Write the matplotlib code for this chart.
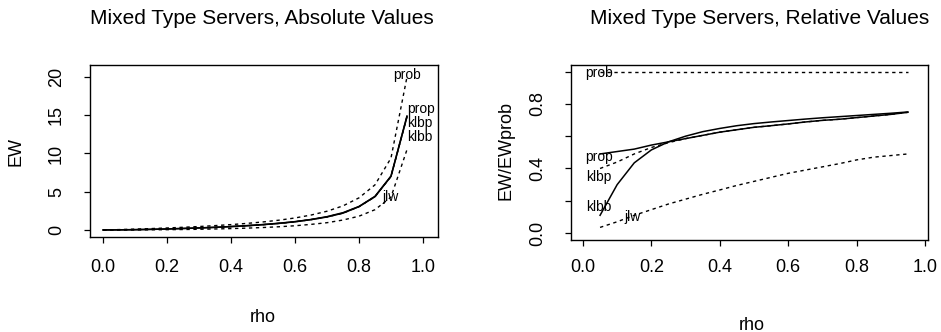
import matplotlib
matplotlib.use("Agg")
import matplotlib.pyplot as plt

FONT = ['Liberation Sans Narrow', 'Liberation Sans', 'DejaVu Sans']
plt.rcParams['font.family'] = FONT

# ---- data ----
rho_abs = [0.00, 0.05, 0.10, 0.15, 0.20, 0.25, 0.30, 0.35, 0.40, 0.45,
           0.50, 0.55, 0.60, 0.65, 0.70, 0.75, 0.80, 0.85, 0.90, 0.95]
ew_prob = [0.00, 0.05, 0.11, 0.18, 0.26, 0.35, 0.45, 0.57, 0.70, 0.86,
           1.05, 1.28, 1.57, 1.95, 2.45, 3.15, 4.20, 5.90, 9.40, 20.0]
ew_prop = [0.00, 0.02, 0.05, 0.09, 0.13, 0.19, 0.26, 0.34, 0.44, 0.55,
           0.69, 0.86, 1.07, 1.35, 1.70, 2.20, 3.05, 4.35, 7.00, 14.8]
ew_klbp = [0.00, 0.02, 0.05, 0.09, 0.13, 0.19, 0.26, 0.34, 0.44, 0.55,
           0.69, 0.86, 1.07, 1.35, 1.70, 2.20, 3.05, 4.35, 7.00, 14.8]
ew_klbb = [0.00, 0.01, 0.03, 0.07, 0.13, 0.20, 0.27, 0.35, 0.45, 0.57,
           0.71, 0.88, 1.09, 1.37, 1.74, 2.26, 3.07, 4.40, 7.05, 14.9]
ew_jlw = [0.00, 0.00, 0.01, 0.02, 0.04, 0.06, 0.09, 0.13, 0.18, 0.24,
          0.32, 0.42, 0.55, 0.73, 0.95, 1.30, 1.80, 2.65, 4.30, 10.5]

rho_rel = [0.05, 0.10, 0.15, 0.20, 0.25, 0.30, 0.35, 0.40, 0.45, 0.50,
           0.55, 0.60, 0.65, 0.70, 0.75, 0.80, 0.85, 0.90, 0.95]
rel_prob = [1.0] * 19
rel_prop = [0.490, 0.505, 0.520, 0.545, 0.565, 0.585, 0.605, 0.625, 0.640, 0.655,
            0.665, 0.676, 0.688, 0.698, 0.705, 0.715, 0.725, 0.735, 0.748]
rel_klbp = [0.400, 0.440, 0.490, 0.530, 0.560, 0.585, 0.605, 0.625, 0.640, 0.655,
            0.665, 0.676, 0.688, 0.698, 0.705, 0.715, 0.725, 0.735, 0.748]
rel_klbb = [0.110, 0.300, 0.435, 0.515, 0.565, 0.600, 0.628, 0.648, 0.665, 0.678,
            0.688, 0.697, 0.706, 0.714, 0.721, 0.728, 0.735, 0.742, 0.750]
rel_jlw = [0.035, 0.070, 0.110, 0.145, 0.180, 0.210, 0.240, 0.267, 0.295, 0.320,
           0.345, 0.370, 0.390, 0.410, 0.430, 0.453, 0.470, 0.480, 0.490]

x_ticks = [0.0, 0.2, 0.4, 0.6, 0.8, 1.0]
x_ticklabels = ['0.0', '0.2', '0.4', '0.6', '0.8', '1.0']
abs_yticks = [0, 5, 10, 15, 20]
rel_yticks = [0.0, 0.2, 0.4, 0.6, 0.8, 1.0]
rel_yticklabels = ['0.0', '', '0.4', '', '0.8', '']

W, H = 941, 332
fig = plt.figure(figsize=(W / 100, H / 100), dpi=100)


def box(x0, y0, x1, y1):
    # pixel box (top-left origin) -> figure fraction
    return [x0 / W, 1 - y1 / H, (x1 - x0) / W, (y1 - y0) / H]


solid = dict(color='black', lw=1.1, ls='-')
dash = dict(color='black', lw=1.0, ls=(0, (2.4, 2.6)))
lab = dict(fontsize=10, color='black')
tick_fs = 13

# ---------------- left panel ----------------
ax1 = fig.add_axes(box(90, 65, 438, 237))
ax1.plot(rho_abs, ew_prob, **dash)
ax1.plot(rho_abs, ew_klbp, **dash)
ax1.plot(rho_abs, ew_jlw, **dash)
ax1.plot(rho_abs, ew_prop, **solid)
ax1.plot(rho_abs, ew_klbb, **solid)
ax1.set_xlim(-0.041, 1.047)
ax1.set_ylim(-0.92, 21.57)
ax1.set_xticks(x_ticks)
ax1.set_xticklabels(x_ticklabels)
ax1.set_yticks(abs_yticks)
ax1.set_yticklabels([str(v) for v in abs_yticks], rotation=90, va='center')
ax1.tick_params(axis='x', direction='out', length=4, width=0.9, pad=12, labelsize=tick_fs)
ax1.tick_params(axis='y', direction='out', length=4, width=0.9, pad=14, labelsize=tick_fs)
ax1.text(0.95, 20.3, 'prob', ha='center', va='center', **lab)
ax1.text(0.95, 15.8, 'prop', ha='left', va='center', **lab)
ax1.text(0.95, 14.0, 'klbp', ha='left', va='center', **lab)
ax1.text(0.95, 12.2, 'klbb', ha='left', va='center', **lab)
ax1.text(0.897, 4.3, 'jlw', ha='center', va='center', **lab)

# ---------------- right panel ----------------
ax2 = fig.add_axes(box(571, 65, 928, 240))
ax2.plot(rho_rel, rel_prob, **dash)
ax2.plot(rho_rel, rel_klbp, **dash)
ax2.plot(rho_rel, rel_jlw, **dash)
ax2.plot(rho_rel, rel_prop, **solid)
ax2.plot(rho_rel, rel_klbb, **solid)
ax2.set_xlim(-0.035, 1.009)
ax2.set_ylim(-0.043, 1.041)
ax2.set_xticks(x_ticks)
ax2.set_xticklabels(x_ticklabels)
ax2.set_yticks(rel_yticks)
ax2.set_yticklabels(rel_yticklabels, rotation=90, va='center')
ax2.tick_params(axis='x', direction='out', length=4, width=0.9, pad=10, labelsize=tick_fs)
ax2.tick_params(axis='y', direction='out', length=4, width=0.9, pad=14, labelsize=tick_fs)
ax2.text(0.047, 0.994, 'prob', ha='center', va='center', **lab)
ax2.text(0.047, 0.473, 'prop', ha='center', va='center', **lab)
ax2.text(0.047, 0.345, 'klbp', ha='center', va='center', **lab)
ax2.text(0.047, 0.163, 'klbb', ha='center', va='center', **lab)
ax2.text(0.146, 0.100, 'jlw', ha='center', va='center', **lab)

for ax in (ax1, ax2):
    for s in ax.spines.values():
        s.set_linewidth(1.0)

# titles and axis labels
fig.text(262 / W, 1 - 18 / H, 'Mixed Type Servers, Absolute Values',
         ha='center', va='center', fontsize=15)
fig.text(760 / W, 1 - 18 / H, 'Mixed Type Servers, Relative Values',
         ha='center', va='center', fontsize=15)
fig.text(263 / W, 1 - 317 / H, 'rho', ha='center', va='center', fontsize=13)
fig.text(752 / W, 1 - 325 / H, 'rho', ha='center', va='center', fontsize=13)
fig.text(16 / W, 1 - 152 / H, 'EW', ha='center', va='center', rotation=90, fontsize=13)
fig.text(506 / W, 1 - 150 / H, 'EW/EWprob', ha='center', va='center', rotation=90, fontsize=13)

fig.savefig('out.png', dpi=100)
